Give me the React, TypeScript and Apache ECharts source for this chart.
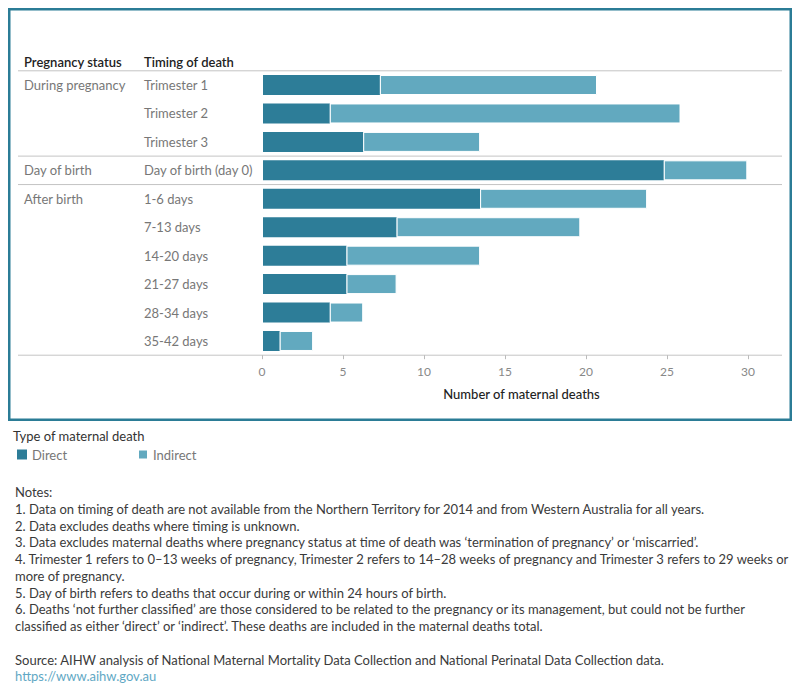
import React, { useEffect, useRef } from "react";
import * as echarts from "echarts";

const timing = [
  "Trimester 1",
  "Trimester 2",
  "Trimester 3",
  "Day of birth (day 0)",
  "1-6 days",
  "7-13 days",
  "14-20 days",
  "21-27 days",
  "28-34 days",
  "35-42 days",
];
const pregnancyStatus = [
  "During pregnancy",
  "",
  "",
  "Day of birth",
  "After birth",
  "",
  "",
  "",
  "",
  "",
];
const direct = [7, 4, 6, 24, 13, 8, 5, 5, 4, 1];
const indirect = [13, 21, 7, 5, 10, 11, 8, 3, 2, 2];
const axisMin = 0;
const axisMax = 30;
const axisInterval = 5;

const notes = [
  "Notes:",
  "1. Data on timing of death are not available from the Northern Territory for 2014 and from Western Australia for all years.",
  "2. Data excludes deaths where timing is unknown.",
  "3. Data excludes maternal deaths where pregnancy status at time of death was \u2018termination of pregnancy\u2019 or \u2018miscarried\u2019.",
  "4. Trimester 1 refers to 0\u201313 weeks of pregnancy, Trimester 2 refers to 14\u201328 weeks of pregnancy and Trimester 3 refers to 29 weeks or",
  "more of pregnancy.",
  "5. Day of birth refers to deaths that occur during or within 24 hours of birth.",
  "6. Deaths \u2018not further classified\u2019 are those considered to be related to the pregnancy or its management, but could not be further",
  "classified as either \u2018direct\u2019 or \u2018indirect\u2019. These deaths are included in the maternal deaths total.",
  "",
  "Source: AIHW analysis of National Maternal Mortality Data Collection and National Perinatal Data Collection data.",
];
const url = "https://www.aihw.gov.au";

const DIRECT_COLOR = "#2D7D98";
const INDIRECT_COLOR = "#62A9BF";
const FONT = "Lato";

export default function App() {
  const ref = useRef<HTMLDivElement>(null);
  useEffect(() => {
    if (!ref.current) return;
    const chart = echarts.init(ref.current, undefined, { renderer: "svg" });

    const gridTop = 70.8;
    const gridHeight = 284.4;
    const band = gridHeight / timing.length;
    const boundaries: number[] = [];
    pregnancyStatus.forEach((s, i) => {
      if (s) boundaries.push(i);
    });
    boundaries.push(timing.length);

    const graphics: any[] = [
      {
        type: "rect",
        shape: { x: 9.25, y: 9.25, width: 781.5, height: 410.5 },
        style: { fill: "none", stroke: "#2B7C96", lineWidth: 2.5 },
        silent: true,
      },
      ...boundaries.map((b) => ({
        type: "line",
        shape: { x1: 18, y1: gridTop + b * band, x2: 782, y2: gridTop + b * band },
        style: { stroke: "#c4c4c4", lineWidth: 1 },
        silent: true,
      })),
      {
        type: "text",
        x: 24,
        y: 62,
        style: {
          text: "Pregnancy status",
          fill: "#222",
          fontSize: 13,
          fontWeight: 600,
          fontFamily: FONT,
          verticalAlign: "middle",
        },
      },
      {
        type: "text",
        x: 144,
        y: 62,
        style: {
          text: "Timing of death",
          fill: "#222",
          fontSize: 13,
          fontWeight: 600,
          fontFamily: FONT,
          verticalAlign: "middle",
        },
      },
      {
        type: "text",
        x: 13,
        y: 436,
        style: {
          text: "Type of maternal death",
          fill: "#333",
          fontSize: 13,
          fontFamily: FONT,
          verticalAlign: "middle",
        },
      },
      ...notes.map((t, i) => ({
        type: "text",
        x: 15,
        y: 492 + i * 16.75,
        style: {
          text: t,
          fill: "#3a3a3a",
          fontSize: 13,
          fontFamily: FONT,
          verticalAlign: "middle",
        },
      })),
      {
        type: "text",
        x: 15,
        y: 492 + notes.length * 16.75,
        style: {
          text: url,
          fill: "#5FA8C4",
          fontSize: 13,
          fontFamily: FONT,
          verticalAlign: "middle",
        },
      },
    ];

    chart.setOption({
      animation: false,
      grid: [
        { left: 263, top: gridTop, width: 501, height: gridHeight },
        { left: 262, top: gridTop, width: 486, height: gridHeight },
      ],
      legend: [
        {
          data: ["Direct"],
          left: 17,
          top: 448,
          padding: 0,
          itemWidth: 10,
          itemHeight: 10,
          icon: "rect",
          selectedMode: false,
          textStyle: { color: "#777", fontSize: 13, fontFamily: FONT },
        },
        {
          data: ["Indirect"],
          left: 137,
          top: 448,
          padding: 0,
          itemWidth: 10,
          itemHeight: 10,
          icon: "rect",
          selectedMode: false,
          textStyle: { color: "#777", fontSize: 13, fontFamily: FONT },
        },
      ],
      xAxis: [
        {
          type: "value",
          gridIndex: 0,
          min: axisMin,
          max: axisMax,
          axisLine: { show: false },
          axisTick: { show: false },
          axisLabel: { show: false },
          splitLine: { show: false },
          name: "Number of maternal deaths",
          nameLocation: "middle",
          nameGap: 32,
          nameTextStyle: {
            color: "#222",
            fontSize: 13,
            fontFamily: FONT,
            fontWeight: 500,
            padding: [0, 0, 0, 16],
          },
        },
        {
          type: "value",
          gridIndex: 1,
          min: axisMin,
          max: axisMax,
          interval: axisInterval,
          axisLine: { show: false },
          axisTick: { show: true, length: 4, lineStyle: { color: "#bbb" } },
          axisLabel: { color: "#888", fontSize: 12, fontFamily: FONT, margin: 10 },
          splitLine: { show: false },
        },
      ],
      yAxis: [
        {
          type: "category",
          gridIndex: 0,
          data: timing,
          inverse: true,
          axisLine: { show: false },
          axisTick: { show: false },
          axisLabel: {
            interval: 0,
            align: "left",
            margin: 263 - 144,
            color: "#777",
            fontSize: 13,
            fontFamily: FONT,
          },
        },
        {
          type: "category",
          gridIndex: 0,
          data: timing,
          inverse: true,
          position: "left",
          axisLine: { show: false },
          axisTick: { show: false },
          axisLabel: {
            interval: 0,
            align: "left",
            margin: 263 - 24,
            color: "#777",
            fontSize: 13,
            fontFamily: FONT,
            formatter: (_v: string, i: number) => pregnancyStatus[i],
          },
        },
        { type: "value", gridIndex: 1, show: false },
      ],
      series: [
        {
          name: "Direct",
          type: "bar",
          stack: "total",
          xAxisIndex: 0,
          yAxisIndex: 0,
          barWidth: 20,
          data: direct,
          itemStyle: { color: DIRECT_COLOR },
          emphasis: { disabled: true },
        },
        {
          name: "Indirect",
          type: "bar",
          stack: "total",
          xAxisIndex: 0,
          yAxisIndex: 0,
          barWidth: 20,
          data: indirect,
          itemStyle: { color: INDIRECT_COLOR, borderColor: "#fff", borderWidth: 1 },
          emphasis: { disabled: true },
        },
      ],
      graphic: graphics,
    });
    return () => chart.dispose();
  }, []);
  return (
    <div
      ref={ref}
      style={{ position: "absolute", left: 0, top: 0, width: 800, height: 700, background: "#fff" }}
    />
  );
}
